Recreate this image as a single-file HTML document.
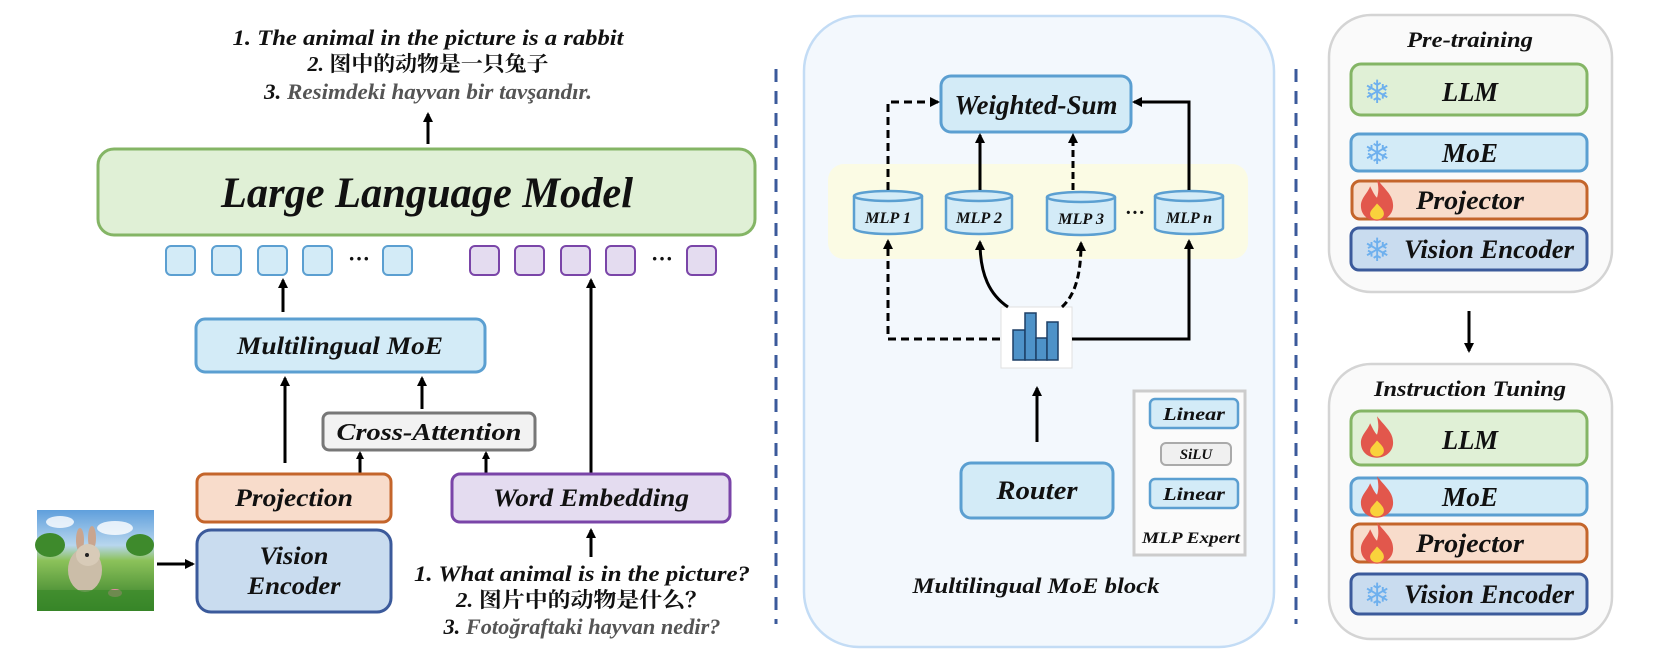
<!DOCTYPE html>
<html><head><meta charset="utf-8"><style>
html,body{margin:0;padding:0;background:#fff;}
svg{display:block;}
text{font-family:"Liberation Serif","Noto Serif CJK SC",serif;font-style:italic;font-weight:bold;fill:#111;}
.cjk{font-family:"Liberation Serif","Noto Serif CJK SC",serif;font-style:normal;}
</style></head><body>
<svg width="1658" height="660" viewBox="0 0 1658 660" xmlns="http://www.w3.org/2000/svg">
<defs>
<marker id="ah" markerWidth="10" markerHeight="10" refX="8" refY="5" orient="auto" markerUnits="userSpaceOnUse">
<path d="M0,0 L10,5 L0,10 Z" fill="#000"/></marker>
<marker id="ahs" markerWidth="8" markerHeight="8" refX="6" refY="4" orient="auto" markerUnits="userSpaceOnUse">
<path d="M0,0 L8,4 L0,8 Z" fill="#000"/></marker>
<linearGradient id="sky" x1="0" y1="0" x2="0" y2="1">
<stop offset="0" stop-color="#5f9fdc"/><stop offset="0.35" stop-color="#b8d6ee"/><stop offset="0.5" stop-color="#8cc25a"/><stop offset="1" stop-color="#2f7a26"/></linearGradient>
<g id="flake"><text x="0" y="2" style="font-family:'DejaVu Sans',sans-serif;font-style:normal;font-weight:normal;font-size:32px;fill:#6eb0ee" text-anchor="middle">❄</text></g>
<g id="fire" transform="scale(1.15)"><path d="M0,-18 C8,-8 14,-4 14,5 C14,13 7,18 0,18 C-8,18 -14,13 -14,5 C-14,-2 -8,-6 -6,-12 C-3,-6 -2,-4 0,-2 C2,-8 1,-13 0,-18 Z" fill="#e2574c"/><path d="M0,3 C4,7 6,9 6,12 C6,15 3,17 0,17 C-3,17 -6,15 -6,12 C-6,9 -3,7 0,3 Z" fill="#f9d23c"/></g>
</defs>

<!-- LEFT PANEL -->
<text x="428" y="45" font-size="22" text-anchor="middle" textLength="391" lengthAdjust="spacingAndGlyphs">1. The animal in the picture is a rabbit</text>
<text x="428" y="71" font-size="21" text-anchor="middle" textLength="241" lengthAdjust="spacingAndGlyphs"><tspan>2. </tspan><tspan class="cjk">图中的动物是一只兔子</tspan></text>
<text x="428" y="99" font-size="22" text-anchor="middle" textLength="328" lengthAdjust="spacingAndGlyphs"><tspan>3. </tspan><tspan fill="#555">Resimdeki hayvan bir tavşandır.</tspan></text>
<line x1="428" y1="144" x2="428" y2="114" stroke="#000" stroke-width="3" marker-end="url(#ah)"/>

<rect x="98" y="149" width="657" height="86" rx="16" fill="#e0f0d6" stroke="#84b565" stroke-width="3"/>
<text x="427" y="207" font-size="43" text-anchor="middle" textLength="412" lengthAdjust="spacingAndGlyphs">Large Language Model</text>

<g stroke-width="2">
<rect x="166" y="246" width="29" height="29" rx="5" fill="#d3ebf7" stroke="#5b9fd1"/>
<rect x="212" y="246" width="29" height="29" rx="5" fill="#d3ebf7" stroke="#5b9fd1"/>
<rect x="258" y="246" width="29" height="29" rx="5" fill="#d3ebf7" stroke="#5b9fd1"/>
<rect x="303" y="246" width="29" height="29" rx="5" fill="#d3ebf7" stroke="#5b9fd1"/>
<rect x="383" y="246" width="29" height="29" rx="5" fill="#d3ebf7" stroke="#5b9fd1"/>
<rect x="470" y="246" width="29" height="29" rx="5" fill="#e4dcf0" stroke="#7a45a8"/>
<rect x="515" y="246" width="29" height="29" rx="5" fill="#e4dcf0" stroke="#7a45a8"/>
<rect x="561" y="246" width="29" height="29" rx="5" fill="#e4dcf0" stroke="#7a45a8"/>
<rect x="606" y="246" width="29" height="29" rx="5" fill="#e4dcf0" stroke="#7a45a8"/>
<rect x="687" y="246" width="29" height="29" rx="5" fill="#e4dcf0" stroke="#7a45a8"/>
</g>
<text x="359" y="266" font-size="22" text-anchor="middle" style="font-style:normal">···</text>
<text x="662" y="266" font-size="22" text-anchor="middle" style="font-style:normal">···</text>

<line x1="283" y1="312" x2="283" y2="280" stroke="#000" stroke-width="3" marker-end="url(#ah)"/>
<line x1="591" y1="474" x2="591" y2="280" stroke="#000" stroke-width="3" marker-end="url(#ah)"/>

<rect x="196" y="319" width="289" height="53" rx="9" fill="#d3ebf7" stroke="#5b9fd1" stroke-width="3"/>
<text x="340" y="354" font-size="25" text-anchor="middle" textLength="206" lengthAdjust="spacingAndGlyphs">Multilingual MoE</text>

<line x1="285" y1="463" x2="285" y2="378" stroke="#000" stroke-width="3" marker-end="url(#ah)"/>
<line x1="422" y1="409" x2="422" y2="378" stroke="#000" stroke-width="3" marker-end="url(#ah)"/>

<rect x="323" y="413" width="212" height="37" rx="6" fill="#f2f2f2" stroke="#777" stroke-width="3"/>
<text x="429" y="440" font-size="24" text-anchor="middle" textLength="185" lengthAdjust="spacingAndGlyphs">Cross-Attention</text>

<line x1="360" y1="474" x2="360" y2="453" stroke="#000" stroke-width="3" marker-end="url(#ahs)"/>
<line x1="486" y1="474" x2="486" y2="453" stroke="#000" stroke-width="3" marker-end="url(#ahs)"/>

<rect x="197" y="474" width="194" height="48" rx="8" fill="#f8dccb" stroke="#c4652b" stroke-width="3"/>
<text x="294" y="506" font-size="25" text-anchor="middle" textLength="118" lengthAdjust="spacingAndGlyphs">Projection</text>

<rect x="197" y="530" width="194" height="82" rx="14" fill="#c9dcef" stroke="#3b5a9b" stroke-width="3"/>
<text x="294" y="564" font-size="25" text-anchor="middle" textLength="69" lengthAdjust="spacingAndGlyphs">Vision</text>
<text x="294" y="594" font-size="25" text-anchor="middle" textLength="93" lengthAdjust="spacingAndGlyphs">Encoder</text>

<rect x="452" y="474" width="278" height="48" rx="8" fill="#e4dcf0" stroke="#7a45a8" stroke-width="3"/>
<text x="591" y="506" font-size="25" text-anchor="middle" textLength="196" lengthAdjust="spacingAndGlyphs">Word Embedding</text>

<!-- rabbit picture -->
<rect x="37" y="510" width="117" height="101" fill="url(#sky)"/>
<ellipse cx="60" cy="522" rx="14" ry="6" fill="#fff" opacity="0.8"/>
<ellipse cx="115" cy="528" rx="18" ry="7" fill="#fff" opacity="0.8"/>
<ellipse cx="50" cy="545" rx="15" ry="12" fill="#3e8a2c"/>
<ellipse cx="140" cy="545" rx="14" ry="11" fill="#3e8a2c"/>
<ellipse cx="85" cy="570" rx="17" ry="22" fill="#cbbda8"/>
<ellipse cx="80" cy="540" rx="4" ry="12" fill="#c9a58f"/>
<ellipse cx="92" cy="538" rx="4" ry="12" fill="#c9a58f"/>
<ellipse cx="88" cy="555" rx="12" ry="11" fill="#d8cbb8"/>
<circle cx="87" cy="555" r="2" fill="#222"/>
<ellipse cx="115" cy="593" rx="7" ry="4" fill="#e88aa8"/>
<rect x="37" y="590" width="117" height="21" fill="#3b8a2a" opacity="0.7"/>

<line x1="157" y1="564" x2="193" y2="564" stroke="#000" stroke-width="3" marker-end="url(#ah)"/>
<line x1="591" y1="557" x2="591" y2="530" stroke="#000" stroke-width="3" marker-end="url(#ah)"/>

<text x="582" y="581" font-size="22" text-anchor="middle" textLength="336" lengthAdjust="spacingAndGlyphs">1. What animal is in the picture?</text>
<text x="582" y="607" font-size="21" text-anchor="middle" textLength="252" lengthAdjust="spacingAndGlyphs"><tspan>2. </tspan><tspan class="cjk">图片中的动物是什么？</tspan></text>
<text x="582" y="634" font-size="22" text-anchor="middle" textLength="277" lengthAdjust="spacingAndGlyphs"><tspan>3. </tspan><tspan fill="#555">Fotoğraftaki hayvan nedir?</tspan></text>

<!-- separators -->
<line x1="776" y1="69" x2="776" y2="624" stroke="#3b5a9b" stroke-width="3" stroke-dasharray="13,9"/>
<line x1="1296" y1="69" x2="1296" y2="624" stroke="#3b5a9b" stroke-width="3" stroke-dasharray="13,9"/>

<!-- MIDDLE PANEL -->
<rect x="804" y="16" width="470" height="631" rx="55" fill="#f3f8fd" stroke="#c3dcf5" stroke-width="2.5"/>
<rect x="828" y="164" width="420" height="95" rx="16" fill="#fbfbe4"/>

<rect x="941" y="76" width="190" height="56" rx="10" fill="#d3ebf7" stroke="#5b9fd1" stroke-width="3"/>
<text x="1036" y="114" font-size="27" text-anchor="middle" textLength="163" lengthAdjust="spacingAndGlyphs">Weighted-Sum</text>

<g stroke="#5b9fd1" stroke-width="2.5" fill="#d3ebf7">
<path d="M854,196 v32 a34,6 0 0 0 68,0 v-32"/><ellipse cx="888" cy="196" rx="34" ry="5"/>
<path d="M946,196 v32 a33,6 0 0 0 66,0 v-32"/><ellipse cx="979" cy="196" rx="33" ry="5"/>
<path d="M1047,197 v32 a34,6 0 0 0 68,0 v-32"/><ellipse cx="1081" cy="197" rx="34" ry="5"/>
<path d="M1155,196 v32 a34,6 0 0 0 68,0 v-32"/><ellipse cx="1189" cy="196" rx="34" ry="5"/>
</g>
<text x="888" y="223" font-size="16" text-anchor="middle" textLength="46" lengthAdjust="spacingAndGlyphs">MLP 1</text>
<text x="979" y="223" font-size="16" text-anchor="middle" textLength="46" lengthAdjust="spacingAndGlyphs">MLP 2</text>
<text x="1081" y="224" font-size="16" text-anchor="middle" textLength="46" lengthAdjust="spacingAndGlyphs">MLP 3</text>
<text x="1189" y="223" font-size="16" text-anchor="middle" textLength="46" lengthAdjust="spacingAndGlyphs">MLP n</text>
<text x="1135" y="219" font-size="20" text-anchor="middle" style="font-style:normal">···</text>

<path d="M888,190 V102 H938" fill="none" stroke="#000" stroke-width="3" stroke-dasharray="8,5" marker-end="url(#ah)"/>
<line x1="980" y1="190" x2="980" y2="135" stroke="#000" stroke-width="3" marker-end="url(#ah)"/>
<line x1="1073" y1="190" x2="1073" y2="135" stroke="#000" stroke-width="3" stroke-dasharray="7,4" marker-end="url(#ah)"/>
<path d="M1189,190 V102 H1134" fill="none" stroke="#000" stroke-width="3" marker-end="url(#ah)"/>

<rect x="1001" y="307" width="71" height="61" fill="#fff" stroke="#e0e0e0" stroke-width="1"/>
<g fill="#4e92c8" stroke="#1d3f66" stroke-width="1.5">
<rect x="1013" y="330" width="12" height="30"/><rect x="1025" y="313" width="11" height="47"/>
<rect x="1036" y="338" width="11" height="22"/><rect x="1047" y="322" width="11" height="38"/>
</g>
<path d="M1000,339 H888 V241" fill="none" stroke="#000" stroke-width="3" stroke-dasharray="8,5" marker-end="url(#ah)"/>
<path d="M1072,339 H1189 V241" fill="none" stroke="#000" stroke-width="3" marker-end="url(#ah)"/>
<path d="M1008,307 C990,295 980,275 980,242" fill="none" stroke="#000" stroke-width="3" marker-end="url(#ah)"/>
<path d="M1062,307 C1075,295 1081,275 1081,243" fill="none" stroke="#000" stroke-width="3" stroke-dasharray="7,4" marker-end="url(#ah)"/>

<line x1="1037" y1="442" x2="1037" y2="388" stroke="#000" stroke-width="3" marker-end="url(#ah)"/>
<rect x="961" y="463" width="152" height="55" rx="10" fill="#d3ebf7" stroke="#5b9fd1" stroke-width="3"/>
<text x="1037" y="499" font-size="26" text-anchor="middle" textLength="81" lengthAdjust="spacingAndGlyphs">Router</text>

<rect x="1134" y="391" width="111" height="164" fill="#fbfbfb" stroke="#cccccc" stroke-width="3"/>
<rect x="1150" y="399" width="88" height="29" rx="5" fill="#d3ebf7" stroke="#5b9fd1" stroke-width="2.5"/>
<text x="1194" y="420" font-size="18" text-anchor="middle" textLength="62" lengthAdjust="spacingAndGlyphs">Linear</text>
<rect x="1161" y="443" width="70" height="22" rx="5" fill="#f0f0f0" stroke="#aaa" stroke-width="2"/>
<text x="1196" y="459" font-size="15" text-anchor="middle">SiLU</text>
<rect x="1150" y="479" width="88" height="29" rx="5" fill="#d3ebf7" stroke="#5b9fd1" stroke-width="2.5"/>
<text x="1194" y="500" font-size="18" text-anchor="middle" textLength="62" lengthAdjust="spacingAndGlyphs">Linear</text>
<text x="1191" y="543" font-size="16" text-anchor="middle" textLength="98" lengthAdjust="spacingAndGlyphs">MLP Expert</text>

<text x="1036" y="593" font-size="22" text-anchor="middle" textLength="247" lengthAdjust="spacingAndGlyphs">Multilingual MoE block</text>

<!-- RIGHT PANEL -->
<rect x="1329" y="15" width="283" height="277" rx="42" fill="#fafafa" stroke="#d4d4d4" stroke-width="2.5"/>
<text x="1470" y="47" font-size="22" text-anchor="middle" textLength="126" lengthAdjust="spacingAndGlyphs">Pre-training</text>
<rect x="1351" y="64" width="236" height="51" rx="10" fill="#e0f0d6" stroke="#84b565" stroke-width="3"/>
<text x="1470" y="101" font-size="27" text-anchor="middle" textLength="56" lengthAdjust="spacingAndGlyphs">LLM</text>
<use href="#flake" x="1377" y="101"/>
<rect x="1351" y="134" width="236" height="37" rx="8" fill="#d3ebf7" stroke="#5b9fd1" stroke-width="3"/>
<text x="1470" y="162" font-size="27" text-anchor="middle" textLength="56" lengthAdjust="spacingAndGlyphs">MoE</text>
<use href="#flake" x="1377" y="162"/>
<rect x="1352" y="181" width="235" height="38" rx="8" fill="#f8dccb" stroke="#c4652b" stroke-width="3"/>
<text x="1470" y="209" font-size="26" text-anchor="middle" textLength="108" lengthAdjust="spacingAndGlyphs">Projector</text>
<use href="#fire" x="1377" y="200"/>
<rect x="1351" y="228" width="236" height="42" rx="8" fill="#c9dcef" stroke="#3b5a9b" stroke-width="3"/>
<text x="1489" y="258" font-size="26" text-anchor="middle" textLength="170" lengthAdjust="spacingAndGlyphs">Vision Encoder</text>
<use href="#flake" x="1377" y="259"/>

<line x1="1469" y1="311" x2="1469" y2="351" stroke="#000" stroke-width="3" marker-end="url(#ah)"/>

<rect x="1329" y="364" width="283" height="275" rx="42" fill="#fafafa" stroke="#d4d4d4" stroke-width="2.5"/>
<text x="1470" y="396" font-size="22" text-anchor="middle" textLength="192" lengthAdjust="spacingAndGlyphs">Instruction Tuning</text>
<rect x="1351" y="411" width="236" height="54" rx="10" fill="#e0f0d6" stroke="#84b565" stroke-width="3"/>
<text x="1470" y="449" font-size="27" text-anchor="middle" textLength="56" lengthAdjust="spacingAndGlyphs">LLM</text>
<use href="#fire" x="1377" y="437"/>
<rect x="1351" y="478" width="236" height="37" rx="8" fill="#d3ebf7" stroke="#5b9fd1" stroke-width="3"/>
<text x="1470" y="506" font-size="27" text-anchor="middle" textLength="56" lengthAdjust="spacingAndGlyphs">MoE</text>
<use href="#fire" x="1377" y="497"/>
<rect x="1352" y="524" width="235" height="38" rx="8" fill="#f8dccb" stroke="#c4652b" stroke-width="3"/>
<text x="1470" y="552" font-size="26" text-anchor="middle" textLength="108" lengthAdjust="spacingAndGlyphs">Projector</text>
<use href="#fire" x="1377" y="543"/>
<rect x="1351" y="574" width="236" height="40" rx="8" fill="#c9dcef" stroke="#3b5a9b" stroke-width="3"/>
<text x="1489" y="603" font-size="26" text-anchor="middle" textLength="170" lengthAdjust="spacingAndGlyphs">Vision Encoder</text>
<use href="#flake" x="1377" y="604"/>
</svg>
</body></html>
